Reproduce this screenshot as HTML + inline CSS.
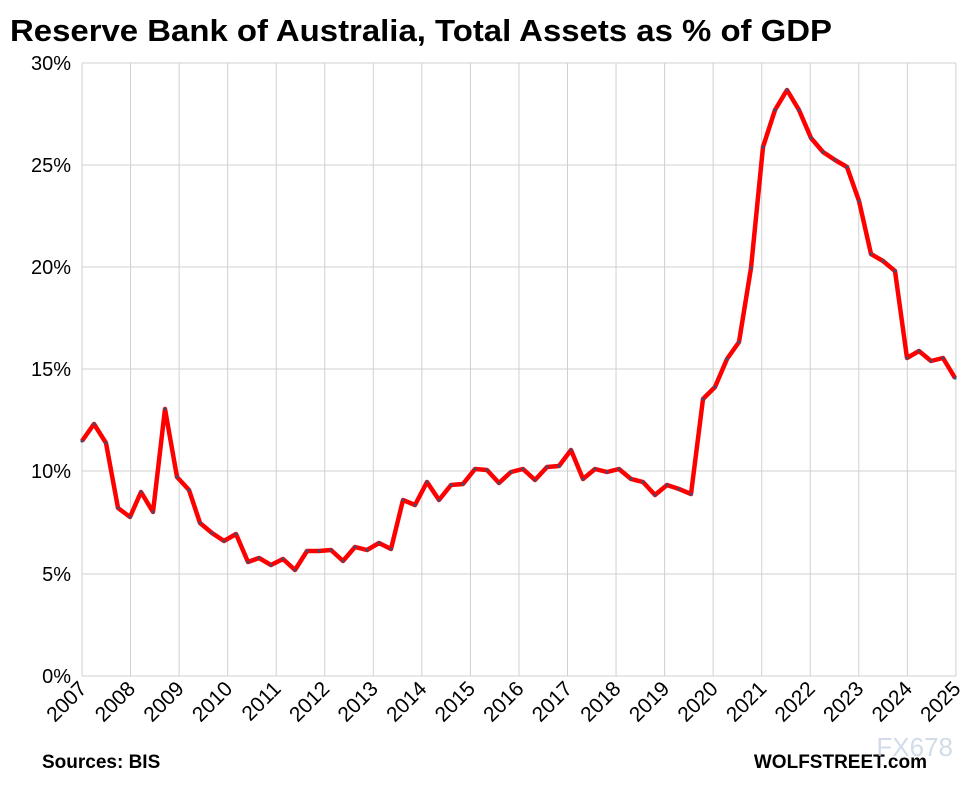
<!DOCTYPE html>
<html><head><meta charset="utf-8"><style>
body{margin:0;background:#fff;}
svg{display:block;font-family:"Liberation Sans",sans-serif;}
</style></head><body>
<svg width="969" height="785" viewBox="0 0 969 785" xmlns="http://www.w3.org/2000/svg">
<text x="10" y="41" font-size="31" font-weight="bold" fill="#000" textLength="822" lengthAdjust="spacingAndGlyphs">Reserve Bank of Australia, Total Assets as % of GDP</text>
<g stroke="#d0d0d0" stroke-width="1">
<line x1="82" y1="63" x2="956" y2="63"/><line x1="82" y1="165" x2="956" y2="165"/><line x1="82" y1="267" x2="956" y2="267"/><line x1="82" y1="369" x2="956" y2="369"/><line x1="82" y1="471" x2="956" y2="471"/><line x1="82" y1="574" x2="956" y2="574"/><line x1="82" y1="676" x2="956" y2="676"/>
</g>
<g stroke="#d0d0d0" stroke-width="1" id="vg"></g>
<g font-size="20" fill="#000" text-anchor="end">
<text x="71" y="70">30%</text><text x="71" y="172">25%</text><text x="71" y="274">20%</text><text x="71" y="376">15%</text><text x="71" y="478">10%</text><text x="71" y="581">5%</text><text x="71" y="683">0%</text>
</g>
<g id="xl" font-size="21" fill="#000" text-anchor="end"></g>
<polyline id="ln" fill="none" stroke="#ff0000" stroke-width="4.5" stroke-linejoin="round" points="82,441 94,424 106,443 118,508 130,517 141,492 153,512 165,409 177,477 189,490 200,523 212,533 224,541 236,534 248,562 259,558 271,565 283,559 295,570 307,551 319,551 331,550 343,561 355,547 367,550 379,543 391,549 403,500 415,505 427,482 439,500 451,485 463,484 475,469 487,470 499,483 511,472 523,469 535,480 547,467 559,466 571,450 583,479 595,469 607,472 619,469 631,479 643,482 655,495 667,485 679,489 691,494 703,399 715,387 727,359 739,342 751,268 763,147 775,110 787,90 799,110 811,138 823,152 835,160 847,167 859,201 871,254 883,261 895,271 907,358 919,351 931,361 943,358 955,378"/>
<g id="dots" fill="#4a4a6a"></g>
<text x="42" y="768" font-size="19" font-weight="bold" fill="#000">Sources: BIS</text>
<text x="927" y="768" font-size="19" font-weight="bold" fill="#000" text-anchor="end">WOLFSTREET.com</text>
<text x="953" y="756" font-size="26" fill="#c8d4e4" text-anchor="end" opacity="0.8">FX678</text>
<script>
var ns="http://www.w3.org/2000/svg";
var vg=document.getElementById("vg"),xl=document.getElementById("xl");
for(var i=0;i<19;i++){var x=82+i*48.55;
var l=document.createElementNS(ns,"line");l.setAttribute("x1",x);l.setAttribute("x2",x);l.setAttribute("y1",63);l.setAttribute("y2",676);vg.appendChild(l);
var t=document.createElementNS(ns,"text");t.setAttribute("transform","translate("+(x+6)+",690) rotate(-45)");t.textContent=2007+i;xl.appendChild(t);}
var pts=document.getElementById("ln").getAttribute("points").trim().split(" ");
var d=document.getElementById("dots");
pts.forEach(function(p){var a=p.split(",");var c=document.createElementNS(ns,"circle");c.setAttribute("cx",a[0]);c.setAttribute("cy",a[1]);c.setAttribute("r",1.6);d.appendChild(c);});
</script>
</svg>
</body></html>
